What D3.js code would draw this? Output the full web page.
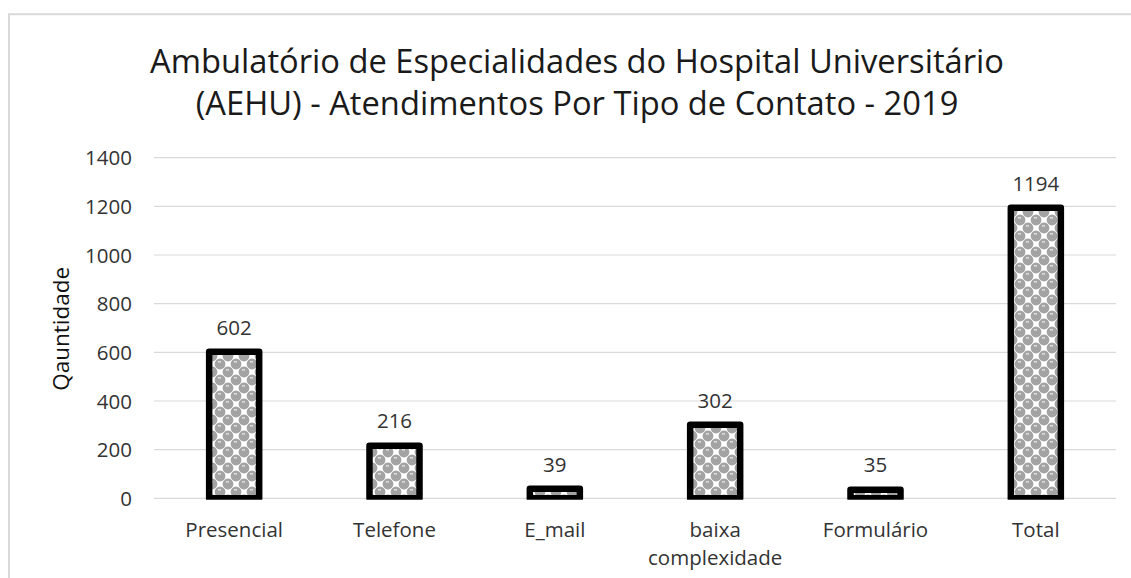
<!DOCTYPE html>
<html>
<head>
<meta charset="utf-8">
<script src="https://cdn.jsdelivr.net/npm/d3@7"></script>
<style>
  html, body { margin: 0; padding: 0; background: #fff; }
  svg { display: block; font-family: "Open Sans", sans-serif; }
</style>
</head>
<body>
<svg id="chart" width="1131" height="578"></svg>
<script>
const titleLines = ["Ambulatório de Especialidades do Hospital Universitário",
                    "(AEHU) - Atendimentos Por Tipo de Contato - 2019"];
const categories = ["Presencial", "Telefone", "E_mail", "baixa\ncomplexidade", "Formulário", "Total"];
const values = [602, 216, 39, 302, 35, 1194];
const yTicks = [0, 200, 400, 600, 800, 1000, 1200, 1400];
const yAxisTitle = "Qauntidade";

const svg = d3.select("#chart");
const W = 1131, H = 578;
const plot = { left: 154, right: 1116, top: 157.7, bottom: 498.3 };

svg.append("rect").attr("width", W).attr("height", H).attr("fill", "#fff");
// chart border (extends beyond visible area)
svg.append("rect").attr("x", 9).attr("y", 14.2).attr("width", 1200).attr("height", 700)
  .attr("fill", "none").attr("stroke", "#d9d9d9").attr("stroke-width", 2);

// sphere pattern
const defs = svg.append("defs");
const pat = defs.append("pattern").attr("id", "sphere").attr("patternUnits", "userSpaceOnUse")
  .attr("width", 16).attr("height", 16);
pat.append("rect").attr("width", 16).attr("height", 16).attr("fill", "#ffffff");
[[4, 4], [12, 12], [-4, 12], [12, -4], [20, 12], [12, 20], [4, 20], [20, 4], [-4, -4], [20, 20], [-4, 20], [20, -4], [4, -12]].forEach(([cx, cy]) => {
  pat.append("circle").attr("cx", cx).attr("cy", cy).attr("r", 5.4).attr("fill", "#a3a3a3");
});
[[4, 4], [12, 12]].forEach(([cx, cy]) => {
  pat.append("rect").attr("x", cx - 2).attr("y", cy - 3).attr("width", 3).attr("height", 1.6).attr("fill", "#dcdcdc");
});
defs.append("clipPath").attr("id", "plotclip").append("rect")
  .attr("x", 0).attr("y", 0).attr("width", W).attr("height", plot.bottom + 1.4);

const x = d3.scaleBand().domain(categories).range([plot.left, plot.right])
  .paddingInner(0.688).paddingOuter(0.344);
const y = d3.scaleLinear().domain([0, 1400]).range([plot.bottom, plot.top]);

// gridlines
svg.append("g").selectAll("line").data(yTicks).join("line")
  .attr("x1", plot.left).attr("x2", plot.right)
  .attr("y1", d => y(d)).attr("y2", d => y(d))
  .attr("stroke", "#d9d9d9").attr("stroke-width", 1.2);

// y axis labels via d3 axis
const yAxis = d3.axisLeft(y).tickValues(yTicks).tickSize(0).tickPadding(0).tickFormat(d3.format("d"));
const gy = svg.append("g").attr("transform", `translate(132,0)`).call(yAxis);
gy.select(".domain").remove();
gy.selectAll("text").attr("font-size", 20.5).attr("fill", "#333")
  .attr("font-family", "'Open Sans', sans-serif").attr("dy", "0.35em");

// bars
svg.append("g").attr("clip-path", "url(#plotclip)").selectAll("rect").data(values).join("rect")
  .attr("x", (d, i) => x(categories[i]))
  .attr("width", x.bandwidth())
  .attr("y", d => y(d))
  .attr("height", d => y(0) - y(d))
  .attr("fill", "url(#sphere)")
  .attr("stroke", "#000").attr("stroke-width", 6.5).attr("stroke-linejoin", "round");

// value labels
svg.append("g").selectAll("text").data(values).join("text")
  .attr("x", (d, i) => x(categories[i]) + x.bandwidth() / 2)
  .attr("y", d => y(d) - 17.3)
  .attr("text-anchor", "middle").attr("font-size", 20.5).attr("fill", "#333")
  .text(d => d);

// category labels
const xAxis = d3.axisBottom(x).tickSize(0).tickPadding(0);
const gx = svg.append("g").call(xAxis);
gx.select(".domain").remove();
gx.selectAll(".tick text").each(function(d) {
  const t = d3.select(this);
  t.text(null).attr("y", 0).attr("dy", null)
    .attr("font-size", 20.5).attr("fill", "#333").attr("font-family", "'Open Sans', sans-serif");
  d.split("\n").forEach((line, i) => {
    t.append("tspan").attr("x", 0).attr("y", 537 + i * 27.5).text(line);
  });
});

// y axis title
svg.append("text")
  .attr("transform", "translate(69,328.8) rotate(-90)")
  .attr("text-anchor", "middle").attr("font-size", 22.5).attr("fill", "#111")
  .text(yAxisTitle);

// title
svg.append("g").selectAll("text").data(titleLines).join("text")
  .attr("x", 577).attr("y", (d, i) => 73.3 + i * 41.7)
  .attr("text-anchor", "middle").attr("font-size", 32.7).attr("fill", "#1a1a1a")
  .text(d => d);
</script>
</body>
</html>
